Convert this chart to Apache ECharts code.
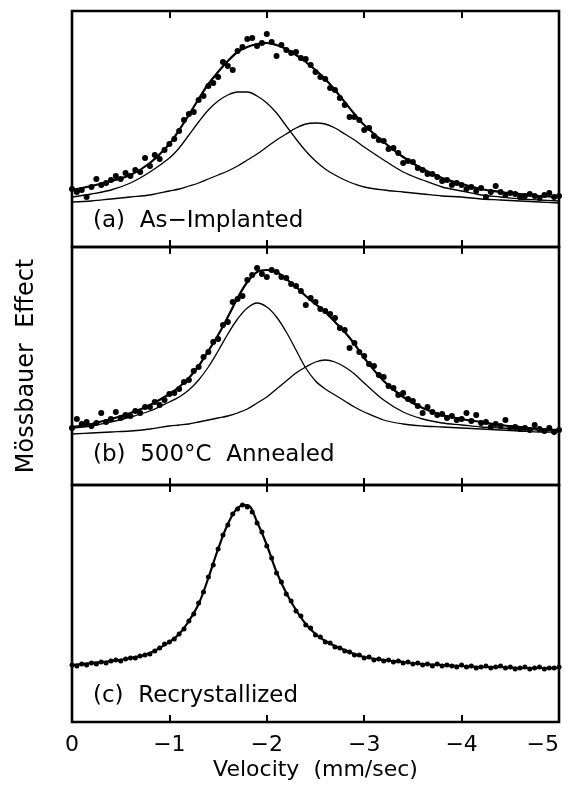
<!DOCTYPE html>
<html>
<head>
<meta charset="utf-8">
<title>Mössbauer spectra</title>
<script src="https://cdn.jsdelivr.net/npm/echarts/dist/echarts.min.js"></script>
<style>
    html, body {margin: 0; padding: 0; background: #fff;}
    #chart {width: 570px; height: 792px;}
</style>
</head>
<body>
<div id="chart"></div>
<script>
// velocity channels of the measured points (mm/sec)
let velDots = [0, -0.05, -0.1, -0.15, -0.2, -0.25, -0.3, -0.35, -0.4, -0.45,
    -0.5, -0.55, -0.6, -0.65, -0.7, -0.75, -0.8, -0.85, -0.9, -0.95,
    -1, -1.05, -1.1, -1.15, -1.2, -1.25, -1.3, -1.35, -1.4, -1.45,
    -1.5, -1.55, -1.6, -1.65, -1.7, -1.75, -1.8, -1.85, -1.9, -1.95,
    -2, -2.05, -2.1, -2.15, -2.2, -2.25, -2.3, -2.35, -2.4, -2.45,
    -2.5, -2.55, -2.6, -2.65, -2.7, -2.75, -2.8, -2.85, -2.9, -2.95,
    -3, -3.05, -3.1, -3.15, -3.2, -3.25, -3.3, -3.35, -3.4, -3.45,
    -3.5, -3.55, -3.6, -3.65, -3.7, -3.75, -3.8, -3.85, -3.9, -3.95,
    -4, -4.05, -4.1, -4.15, -4.2, -4.25, -4.3, -4.35, -4.4, -4.45,
    -4.5, -4.55, -4.6, -4.65, -4.7, -4.75, -4.8, -4.85, -4.9, -4.95,
    -5];

// measured effect (arbitrary units), one value per channel
let dotsA = [58, 55, 57, 50, 60, 68, 62, 64, 67, 71,
    68, 74, 71, 77, 75, 89, 81, 92, 88, 97,
    103, 108, 116, 127, 133, 135, 147, 151, 161, 164,
    170, 185, 181, 177, 196, 200, 208, 209, 201, 204,
    213, 205, 191, 202, 197, 194, 195, 189, 188, 182,
    175, 170, 168, 159, 157, 149, 142, 130, 130, 127,
    117, 119, 111, 107, 106, 98, 99, 94, 84, 86,
    85, 79, 77, 73, 73, 70, 66, 67, 62, 64,
    62, 58, 60, 56, 59, 50, 55, 61, 55, 52,
    54, 53, 50, 51, 53, 51, 49, 52, 54, 50,
    51];
let dotsB = [57, 66, 61, 63, 59, 62, 72, 63, 66, 73,
    67, 70, 69, 74, 72, 78, 78, 83, 80, 85,
    91, 92, 96, 103, 105, 114, 118, 128, 133, 143,
    146, 160, 163, 183, 186, 189, 205, 210, 217, 211,
    208, 215, 213, 208, 207, 201, 199, 194, 180, 187,
    183, 176, 174, 171, 167, 157, 155, 137, 142, 133,
    129, 121, 119, 110, 108, 99, 97, 90, 92, 86,
    84, 79, 72, 78, 73, 70, 71, 67, 69, 65,
    66, 72, 64, 70, 62, 63, 58, 61, 59, 65,
    57, 58, 56, 57, 55, 60, 56, 54, 57, 53,
    55];
let dotsC = [57, 56, 58, 57, 59, 58, 60, 59, 61, 62,
    61, 63, 64, 64, 66, 67, 68, 71, 74, 78,
    80, 83, 88, 93, 101, 108, 119, 130, 145, 157,
    173, 187, 197, 208, 213, 217, 215, 210, 199, 190,
    176, 164, 149, 140, 128, 121, 111, 106, 97, 94,
    87, 85, 80, 79, 75, 74, 71, 70, 67, 67,
    64, 65, 62, 63, 61, 62, 60, 61, 59, 60,
    58, 59, 57, 58, 56, 58, 56, 57, 56, 55,
    57, 55, 56, 54, 55, 56, 54, 55, 56, 54,
    55, 53, 54, 55, 53, 54, 55, 53, 54, 54,
    55];

// fitted curves
let fitVel = [0, -0.2, -0.4, -0.6, -0.8, -1, -1.1, -1.2, -1.3, -1.4, -1.5, -1.6,
    -1.7, -1.8, -1.9, -2, -2.1, -2.2, -2.3, -2.4, -2.5, -2.6, -2.7, -2.8,
    -2.9, -3, -3.2, -3.4, -3.6, -3.8, -4, -4.2, -4.4, -4.6, -4.8, -5];
let fitA = [57, 61, 66, 72, 84, 103, 117, 132, 148, 163, 175, 186,
    195, 200, 203, 204, 202, 198, 192, 185, 177, 168, 157, 145,
    133, 122, 105, 90, 78, 69, 63, 58, 55, 53, 51, 50];
let compA1 = [50, 53, 57, 64, 75, 89, 99, 112, 125, 137, 146, 152,
    155, 155, 151, 144, 134, 121, 108, 96, 86, 78, 72, 67,
    63, 60, 57, 55, 53, 51, 50, 48, 47, 46, 45, 44];
let compA2 = [45, 46, 48, 50, 52, 56, 58, 61, 64, 68, 72, 76,
    81, 87, 93, 100, 107, 113, 119, 123, 124, 123, 119, 113,
    107, 100, 87, 75, 67, 60, 56, 52, 50, 48, 47, 46];
let fitB = [58, 61, 66, 72, 80, 91, 98, 107, 119, 134, 150, 168,
    187, 203, 213, 215, 213, 206, 198, 189, 181, 173, 163, 153,
    141, 127, 104, 88, 77, 70, 66, 63, 60, 58, 56, 55];
let compB1 = [57, 59, 63, 68, 74, 83, 88, 95, 105, 118, 134, 151,
    166, 177, 182, 178, 168, 153, 135, 117, 104, 96, 90, 84,
    78, 73, 65, 61, 59, 58, 57, 56, 55, 54, 53, 53];
let compB2 = [51, 52, 53, 54, 56, 59, 60, 61, 63, 65, 67, 69,
    72, 76, 82, 88, 96, 104, 112, 118, 123, 125, 123, 118,
    111, 102, 85, 73, 66, 62, 60, 58, 57, 56, 55, 55];
let fitC = [57, 59, 61, 64, 69, 80, 88, 101, 118, 144, 173, 198,
    214, 217, 200, 177, 150, 129, 112, 98, 88, 81, 76, 72,
    68, 65, 62, 60, 58, 57, 56, 55, 55, 54, 54, 54];

let panelLabels = ['(a)  As\u2212Implanted', '(b)  500°C  Annealed', '(c)  Recrystallized'];

let myChart = echarts.init(document.getElementById('chart'));

const FONT = 'DejaVu Sans';
// pixel frame of the three stacked panels
let panels = [
    {top: 11, height: 236, labelTop: 210},
    {top: 247, height: 238, labelTop: 444},
    {top: 485, height: 237, labelTop: 685}
];

function pairs(xs, ys) {
    return xs.map((x, i) => [x, ys[i]]);
}

function xAxisFor(gridIndex, position, withLabels) {
    return {
        type: 'value',
        gridIndex: gridIndex,
        position: position,
        min: -5,
        max: 0,
        interval: 1,
        inverse: true,
        axisLine: {show: false},
        axisTick: {show: true, inside: true, length: 7, lineStyle: {color: '#000', width: 2}},
        splitLine: {show: false},
        axisLabel: {
            show: withLabels,
            margin: 12,
            color: '#000',
            fontSize: 22,
            fontFamily: FONT,
            alignMinLabel: 'right',
            formatter: v => v === 0 ? '0' : '\u2212' + Math.abs(v)
        },
        name: withLabels ? 'Velocity  (mm/sec)' : '',
        nameLocation: 'middle',
        nameGap: 37,
        nameTextStyle: {color: '#000', fontSize: 22, fontFamily: FONT}
    };
}

let grids = [], xAxes = [], yAxes = [], series = [], graphics = [];
let dotSets = [dotsA, dotsB, dotsC];
let curveSets = [[fitA, compA1, compA2], [fitB, compB1, compB2], [fitC]];

panels.forEach((p, k) => {
    grids.push({
        left: 72, right: 11, top: p.top, height: p.height,
        containLabel: false,
        outerBoundsMode: 'none',
        show: true, borderColor: '#000', borderWidth: 2.6, backgroundColor: 'transparent'
    });
    xAxes.push(xAxisFor(k, 'bottom', k === 2));
    xAxes.push(xAxisFor(k, 'top', false));
    yAxes.push({
        type: 'value', gridIndex: k, min: 0, max: p.height,
        axisLine: {show: false}, axisTick: {show: false},
        axisLabel: {show: false}, splitLine: {show: false},
        name: k === 1 ? 'Mössbauer  Effect' : '',
        nameLocation: 'middle',
        nameRotate: 90,
        nameGap: 33,
        nameTextStyle: {color: '#000', fontSize: 24, fontFamily: FONT}
    });
    series.push({
        type: 'scatter',
        xAxisIndex: 2 * k, yAxisIndex: k,
        data: pairs(velDots, dotSets[k]),
        symbolSize: k === 2 ? 5 : 6,
        itemStyle: {color: '#000', opacity: 1},
        silent: true
    });
    curveSets[k].forEach((c, j) => {
        series.push({
            type: 'line',
            xAxisIndex: 2 * k, yAxisIndex: k,
            data: pairs(fitVel, c),
            smooth: 0.35,
            showSymbol: false,
            lineStyle: {color: '#000', width: j === 0 ? 2.2 : 1.3},
            silent: true
        });
    });
    graphics.push({
        type: 'text',
        left: 93,
        top: p.labelTop,
        style: {text: panelLabels[k], font: '23px "' + FONT + '"', fill: '#000'}
    });
});

let option = {
    backgroundColor: '#fff',
    animation: false,
    grid: grids,
    xAxis: xAxes,
    yAxis: yAxes,
    series: series,
    graphic: graphics
};

myChart.setOption(option);
</script>
</body>
</html>
